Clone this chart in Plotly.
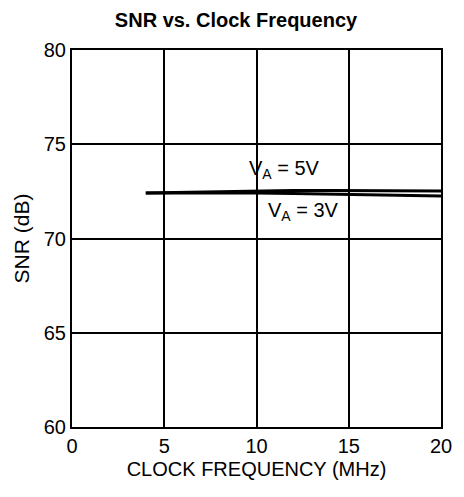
import plotly.graph_objects as go

freq = [4, 6, 8, 10, 12, 14, 16, 18, 20]
snr_5v = [72.42, 72.46, 72.5, 72.55, 72.55, 72.54, 72.53, 72.52, 72.52]
snr_3v = [72.42, 72.43, 72.43, 72.42, 72.39, 72.35, 72.31, 72.28, 72.25]
x_ticks = [0, 5, 10, 15, 20]
y_ticks = [60, 65, 70, 75, 80]

fig = go.Figure()
fig.add_trace(go.Scatter(x=freq, y=snr_5v, mode="lines",
                         line=dict(color="black", width=3), showlegend=False))
fig.add_trace(go.Scatter(x=freq, y=snr_3v, mode="lines",
                         line=dict(color="black", width=3), showlegend=False))

font = "Liberation Sans, Arial, sans-serif"
fig.add_annotation(x=11.5, y=73.65, text="V<sub>A</sub> = 5V", showarrow=False,
                   font=dict(family=font, size=20, color="black"))
fig.add_annotation(x=12.55, y=71.45, text="V<sub>A</sub> = 3V", showarrow=False,
                   font=dict(family=font, size=20, color="black"))

fig.update_layout(
    width=456, height=489,
    margin=dict(l=64, r=15, t=42, b=70),
    paper_bgcolor="white", plot_bgcolor="white",
    title=dict(text="<b>SNR vs. Clock Frequency</b>", x=0.5, xanchor="center",
               y=1 - 12 / 489, yanchor="middle",
               font=dict(family=font, size=20, color="black")),
    font=dict(family=font, size=20, color="black"),
)
fig.update_xaxes(range=[0, 20], tickvals=x_ticks, ticks="", showgrid=True,
                 gridcolor="black", gridwidth=1.5, showline=True, linecolor="black",
                 linewidth=2, mirror=True, zeroline=False,
                 title=dict(text="CLOCK FREQUENCY (MHz)", font=dict(size=20), standoff=6),
                 tickfont=dict(size=20))
fig.update_yaxes(range=[60, 80], tickvals=y_ticks, ticks="", showgrid=True,
                 gridcolor="black", gridwidth=1.5, showline=True, linecolor="black",
                 linewidth=2, mirror=True, zeroline=False,
                 title=dict(text="SNR (dB)", font=dict(size=21), standoff=8),
                 tickfont=dict(size=20))

fig.write_html("out.html")
